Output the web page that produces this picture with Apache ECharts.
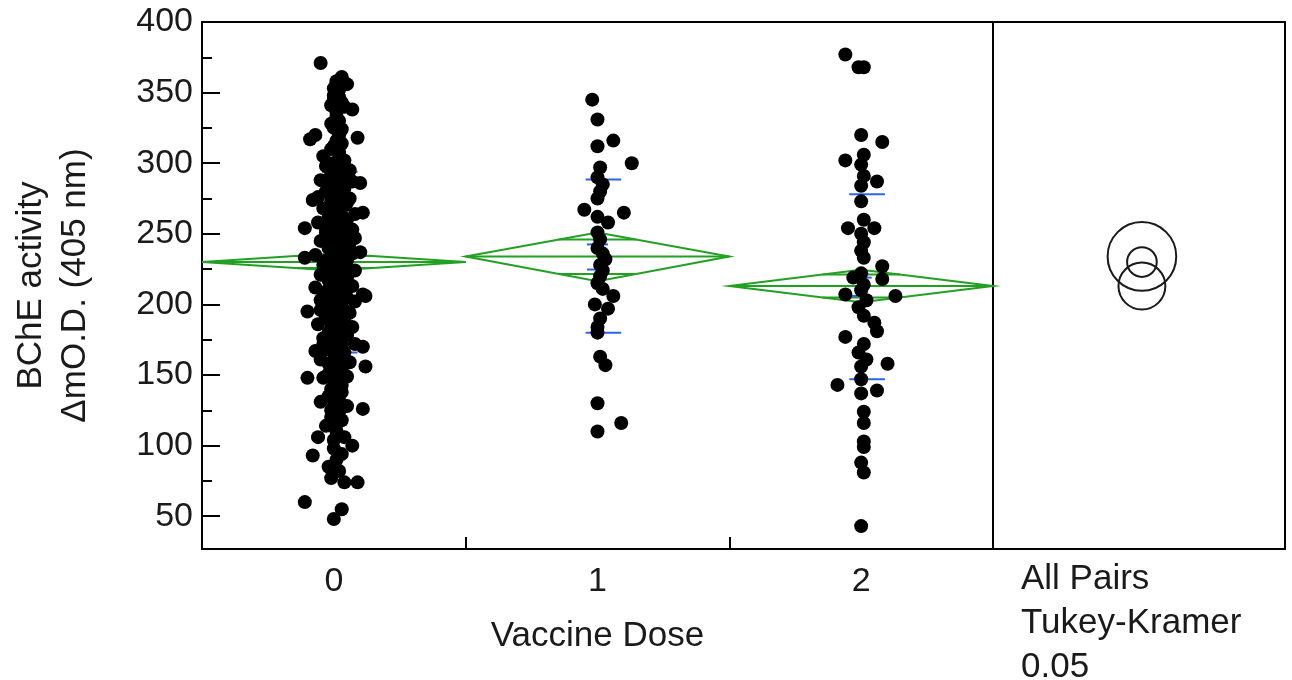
<!DOCTYPE html>
<html>
<head>
<meta charset="utf-8">
<title>BChE activity by vaccine dose</title>
<script src="https://cdn.jsdelivr.net/npm/echarts@6/dist/echarts.min.js"></script>
<style>
  html, body { margin: 0; padding: 0; background: #fff; }
  #chart { width: 1292px; height: 680px; }
</style>
</head>
<body>
<div id="chart"></div>
<script>
// 分组与刻度
const doseLabels = ['0', '1', '2']
const doseValues = [0, 1, 2]
const groupSplits = [0.5, 1.5]
const yTicks = [50, 100, 150, 200, 250, 300, 350, 400]
const yMinorTicks = [75, 125, 175, 225, 275, 325, 375]
const comparisonText = ['All Pairs', 'Tukey-Kramer', '0.05']

// 每个点: [横向抖动(组宽的1/100), BChE 值]
const dose0Points = [
  [-5, 371], [1, 358], [3, 361], [5, 356], [0, 345], [7, 338], [4, 340], [-9, 317], [-7, 320], [9, 318],
  [-4, 305], [10, 286], [-8, 274], [11, 265], [-11, 254], [6, 253], [10, 237], [-11, 233], [11, 207], [12, 206],
  [-10, 195], [-7, 167], [11, 170], [12, 156], [-10, 148], [-4, 148], [-5, 131], [11, 126], [1, 122], [-6, 106],
  [7, 100], [0, 104], [-8, 93], [1, 90], [-1, 77], [4, 74], [9, 74], [-11, 60], [3, 55], [0, 48],
  [2, 352], [0, 348], [3, 343], [1, 336], [2, 330], [0, 325], [2, 320], [3, 314], [-1, 310], [2, 306],
  [4, 302], [-2, 300], [-3, 298], [1, 297], [6, 295], [-1, 293], [3, 290], [-5, 288], [7, 287], [0, 285],
  [4, 282], [-3, 280], [2, 278], [-6, 276], [6, 275], [-1, 273], [4, 270], [-4, 268], [1, 266], [8, 264],
  [-2, 262], [5, 260], [-6, 258], [3, 257], [0, 255], [7, 253], [-3, 251], [3, 249], [8, 247], [-5, 245],
  [0, 244], [4, 242], [-2, 240], [2, 238], [7, 236], [-7, 235], [-1, 233], [5, 231], [1, 229], [-4, 228],
  [4, 226], [8, 224], [0, 222], [-5, 221], [5, 219], [-2, 217], [2, 215], [7, 213], [-7, 212], [-1, 210],
  [4, 208], [-4, 206], [1, 204], [8, 202], [-2, 200], [3, 198], [-5, 196], [6, 194], [0, 192], [-3, 190],
  [4, 188], [-6, 186], [7, 184], [1, 182], [-2, 180], [5, 178], [-4, 176], [2, 174], [8, 172], [0, 170],
  [-3, 168], [4, 166], [1, 163], [-5, 161], [6, 159], [-1, 157], [3, 154], [-2, 151], [5, 149], [2, 146],
  [0, 142], [3, 138], [-2, 135], [2, 132], [5, 128], [-1, 125], [3, 118], [-3, 114], [1, 110], [4, 106],
  [0, 98], [3, 94], [-2, 85], [2, 82], [0, 300], [3, 295], [-2, 288], [2, 282], [0, 277], [5, 272],
  [0, 262], [3, 258], [-3, 254], [1, 250], [-1, 246], [6, 240], [0, 235], [3, 233], [-3, 225], [2, 220],
  [5, 216], [-1, 214], [1, 207], [-5, 203], [4, 196], [0, 186], [2, 180], [-4, 172], [1, 168],
  [1, 296], [-1, 291], [3, 287], [0, 283], [-2, 279], [2, 274], [1, 269], [-2, 265], [3, 263], [0, 259],
  [-1, 256], [2, 252], [4, 248], [-1, 242], [2, 241], [0, 237], [-3, 231], [2, 227], [-1, 223], [3, 218],
  [0, 216], [-2, 211], [2, 209], [5, 205], [-1, 201], [1, 197], [-3, 193], [2, 191], [0, 189], [3, 185],
  [-1, 183], [1, 177], [-1, 173], [3, 171], [0, 165], [2, 160], [-2, 158], [1, 152], [0, 148], [3, 143],
  [-1, 140], [1, 136], [0, 128], [2, 124], [-1, 120], [1, 115], [1, 356], [0, 353], [2, 347], [-1, 341],
  [1, 333], [-1, 328], [3, 324], [1, 316], [0, 312], [2, 308]
]
const dose1Points = [
  [-2, 345], [0, 331], [6, 316], [0, 312], [13, 300], [1, 297], [0, 290], [2, 285], [1, 280], [0, 275],
  [-5, 267], [10, 265], [0, 262], [4, 258], [0, 251], [1, 246], [0, 240], [2, 236], [3, 232], [1, 228],
  [2, 224], [1, 220], [0, 215], [2, 211], [6, 206], [-1, 200], [4, 197], [1, 190], [0, 184], [0, 180],
  [1, 163], [3, 157], [0, 130], [9, 116], [0, 110]
]
const dose2Points = [
  [-6, 377], [-1, 368], [1, 368], [0, 320], [8, 315], [-6, 302], [1, 306], [0, 299], [1, 291], [6, 287],
  [0, 284], [0, 273], [-5, 254], [5, 254], [1, 260], [0, 250], [1, 244], [0, 238], [1, 233], [8, 227],
  [-3, 219], [8, 218], [-6, 207], [13, 206], [0, 222], [1, 214], [0, 210], [2, 203], [-1, 198], [1, 192],
  [5, 187], [6, 181], [-6, 177], [1, 172], [-1, 166], [2, 161], [0, 156], [10, 158], [-9, 143], [0, 147],
  [6, 139], [0, 137], [1, 124], [1, 116], [1, 103], [1, 99], [0, 88], [1, 81], [0, 43]
]

// 均值菱形、标准差线、均值误差线、比较圆
const groupMeans = [230, 234, 213]
const ciLow = [224, 216.5, 201.5]
const ciHigh = [236, 251, 224.5]
const sdLow = [166, 180, 147]
const sdHigh = [294, 288.5, 278]
const seLow = [226, 224.7, 206]
const seHigh = [234, 242.5, 219]
const circleRadius = [10.5, 24.3, 16.6]

const font = "'Liberation Sans', Arial, sans-serif"
const textColor = '#1a1a1a'
const green = '#22a022'
const blue = '#2d63f0'

var chart = echarts.init(document.getElementById('chart'))

var pointData = []
;[dose0Points, dose1Points, dose2Points].forEach((list, g) => {
  list.forEach(item => {
    pointData.push([doseValues[g] + item[0] / 100, item[1]])
  })
})

var diamondData = doseValues.map((g, i) => [g, groupMeans[i], ciLow[i], ciHigh[i]])
var barData = doseValues.map((g, i) => [g, sdLow[i], sdHigh[i], seLow[i], seHigh[i]])
var circleData = doseValues.map((g, i) => [0.51, groupMeans[i], circleRadius[i]])

function renderDiamond(params, api) {
  const g = api.value(0), m = api.value(1), lo = api.value(2), hi = api.value(3)
  const left = api.coord([g - 0.5, m])
  const right = api.coord([g + 0.5, m])
  const top = api.coord([g, hi])
  const bottom = api.coord([g, lo])
  const line = { stroke: green, lineWidth: 2, fill: null }
  // 重叠标记
  const w = 0.5 * (1 - Math.SQRT1_2)
  const up = m + (hi - m) * Math.SQRT1_2
  const down = m - (m - lo) * Math.SQRT1_2
  const u1 = api.coord([g - w, up]), u2 = api.coord([g + w, up])
  const d1 = api.coord([g - w, down]), d2 = api.coord([g + w, down])
  return {
    type: 'group',
    children: [
      { type: 'polygon', shape: { points: [left, top, right, bottom] }, style: line },
      { type: 'line', shape: { x1: left[0], y1: left[1], x2: right[0], y2: right[1] }, style: line },
      { type: 'line', shape: { x1: u1[0], y1: u1[1], x2: u2[0], y2: u2[1] }, style: line },
      { type: 'line', shape: { x1: d1[0], y1: d1[1], x2: d2[0], y2: d2[1] }, style: line }
    ]
  }
}

function renderBars(params, api) {
  const g = api.value(0)
  const style = { stroke: blue, lineWidth: 2 }
  const children = []
  ;[[1, -0.045, 0.09], [2, -0.045, 0.09], [3, -0.04, 0.04], [4, -0.04, 0.04]].forEach(d => {
    const a = api.coord([g + d[1], api.value(d[0])])
    const b = api.coord([g + d[2], api.value(d[0])])
    children.push({ type: 'line', shape: { x1: a[0], y1: a[1], x2: b[0], y2: b[1] }, style: style })
  })
  return { type: 'group', children: children }
}

function renderCircle(params, api) {
  const c = api.coord([api.value(0), api.value(1)])
  const r = api.size([0, api.value(2)])[1]
  return {
    type: 'circle',
    shape: { cx: c[0], cy: c[1], r: r },
    style: { stroke: '#1a1a1a', lineWidth: 2, fill: null }
  }
}

var yRange = { min: 26.8, max: 400 }

var option = {
  animation: false,
  title: {
    text: comparisonText.join('\n'),
    left: 1016,
    top: 552,
    textStyle: { fontFamily: font, fontSize: 35, fontWeight: 'normal', lineHeight: 44, color: textColor }
  },
  grid: [
    { left: 202, right: 299, top: 22, bottom: 131, show: true, borderColor: '#000', borderWidth: 2 },
    { left: 993, right: 7, top: 22, bottom: 131, show: true, borderColor: '#000', borderWidth: 2 }
  ],
  xAxis: [
    {
      gridIndex: 0,
      type: 'value',
      min: -0.5,
      max: 2.5,
      name: 'Vaccine Dose',
      nameLocation: 'middle',
      nameGap: 70,
      nameTextStyle: { fontFamily: font, fontSize: 35, color: textColor },
      axisLine: { show: true, onZero: false, lineStyle: { color: '#000', width: 2 } },
      axisTick: { show: true, inside: true, length: 12, customValues: groupSplits, lineStyle: { color: '#000', width: 2 } },
      axisLabel: {
        customValues: doseValues,
        formatter: v => doseLabels[Math.round(v)],
        margin: 16,
        fontFamily: font,
        fontSize: 34,
        color: textColor
      },
      splitLine: { show: false }
    },
    { gridIndex: 1, type: 'value', min: 0, max: 1, show: false }
  ],
  yAxis: [
    {
      gridIndex: 0,
      type: 'value',
      min: yRange.min,
      max: yRange.max,
      name: 'BChE activity\nΔmO.D. (405 nm)',
      nameLocation: 'middle',
      nameRotate: 90,
      nameGap: 105,
      nameTextStyle: { fontFamily: font, fontSize: 35, color: textColor, lineHeight: 44 },
      axisLine: { show: true, onZero: false, lineStyle: { color: '#000', width: 2 } },
      axisTick: { show: true, inside: true, length: 18, customValues: yTicks, lineStyle: { color: '#000', width: 2 } },
      axisLabel: { customValues: yTicks, margin: 9, fontFamily: font, fontSize: 34, color: textColor },
      splitLine: { show: false }
    },
    {
      // 次刻度
      gridIndex: 0,
      type: 'value',
      min: yRange.min,
      max: yRange.max,
      position: 'left',
      axisLine: { show: false, onZero: false },
      axisTick: { show: true, inside: true, length: 10, customValues: yMinorTicks, lineStyle: { color: '#000', width: 2 } },
      axisLabel: { show: false },
      splitLine: { show: false }
    },
    { gridIndex: 1, type: 'value', min: yRange.min, max: yRange.max, show: false }
  ],
  series: [
    {
      type: 'custom',
      xAxisIndex: 0,
      yAxisIndex: 0,
      renderItem: renderDiamond,
      data: diamondData,
      silent: true,
      z: 2
    },
    {
      type: 'custom',
      xAxisIndex: 0,
      yAxisIndex: 0,
      renderItem: renderBars,
      data: barData,
      silent: true,
      z: 3
    },
    {
      type: 'scatter',
      xAxisIndex: 0,
      yAxisIndex: 0,
      symbol: 'circle',
      symbolSize: 14,
      itemStyle: { color: '#000', opacity: 1 },
      data: pointData,
      silent: true,
      z: 5
    },
    {
      type: 'custom',
      xAxisIndex: 1,
      yAxisIndex: 2,
      renderItem: renderCircle,
      data: circleData,
      silent: true,
      z: 4
    }
  ]
}
chart.setOption(option)
</script>
</body>
</html>
